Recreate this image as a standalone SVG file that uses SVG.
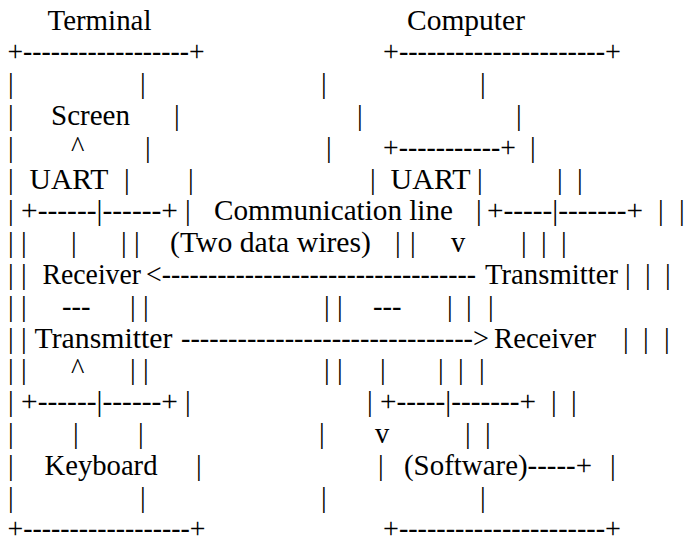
<svg xmlns="http://www.w3.org/2000/svg" width="685" height="546" viewBox="0 0 685 546">
<style>
text{font-family:'Liberation Serif','Times New Roman',serif;font-size:28.5px;fill:#000}
</style>
<rect width="685" height="546" fill="#fff"/>
<g opacity="0.999">
<g id="terminal">
<text x="47.5" y="29.5" textLength="104" lengthAdjust="spacingAndGlyphs">Terminal</text>
<text x="7.5" y="61.3" textLength="197" lengthAdjust="spacingAndGlyphs">+------------------+</text>
<text x="8" y="93.1">|</text><text x="140" y="93.1">|</text>
<text x="8" y="124.9">|</text><text x="51" y="124.9" textLength="79" lengthAdjust="spacingAndGlyphs">Screen</text><text x="174" y="124.9">|</text>
<text x="8" y="156.7">|</text><text x="71" y="156.7">^</text><text x="145" y="156.7">|</text>
<text x="8" y="188.5">|</text><text x="29.5" y="188.5" textLength="79" lengthAdjust="spacingAndGlyphs">UART</text><text x="124" y="188.5">|</text><text x="188" y="188.5">|</text>
<text x="8" y="220.3">|</text><text x="21" y="220.3" textLength="157" lengthAdjust="spacingAndGlyphs">+------|------+</text><text x="185" y="220.3">|</text>
<text x="8" y="252.1">|</text><text x="21" y="252.1">|</text><text x="71" y="252.1">|</text><text x="121" y="252.1">|</text><text x="134" y="252.1">|</text>
<text x="8" y="283.9">|</text><text x="21" y="283.9">|</text><text x="42.5" y="283.9" textLength="98.5" lengthAdjust="spacingAndGlyphs">Receiver</text>
<text x="8" y="315.7">|</text><text x="21" y="315.7">|</text><text x="62" y="315.7">---</text><text x="130" y="315.7">|</text><text x="143" y="315.7">|</text>
<text x="8" y="347.5">|</text><text x="21" y="347.5">|</text><text x="34.5" y="347.5" textLength="138" lengthAdjust="spacingAndGlyphs">Transmitter</text>
<text x="8" y="379.3">|</text><text x="21" y="379.3">|</text><text x="71" y="379.3">^</text><text x="130" y="379.3">|</text><text x="143" y="379.3">|</text>
<text x="8" y="411.1">|</text><text x="21" y="411.1" textLength="157" lengthAdjust="spacingAndGlyphs">+------|------+</text><text x="185" y="411.1">|</text>
<text x="8" y="442.9">|</text><text x="73" y="442.9">|</text><text x="138" y="442.9">|</text>
<text x="8" y="474.7">|</text><text x="44.5" y="474.7" textLength="113" lengthAdjust="spacingAndGlyphs">Keyboard</text><text x="196" y="474.7">|</text>
<text x="8" y="506.5">|</text><text x="140" y="506.5">|</text>
<text x="7.5" y="538.3" textLength="198" lengthAdjust="spacingAndGlyphs">+------------------+</text>
</g>
<g id="computer">
<text x="407" y="29.5" textLength="118" lengthAdjust="spacingAndGlyphs">Computer</text>
<text x="383" y="61.3" textLength="238" lengthAdjust="spacingAndGlyphs">+----------------------+</text>
<text x="321" y="93.1">|</text><text x="480" y="93.1">|</text>
<text x="357" y="124.9">|</text><text x="516" y="124.9">|</text>
<text x="326" y="156.7">|</text><text x="383" y="156.7" textLength="133" lengthAdjust="spacingAndGlyphs">+-----------+</text><text x="530" y="156.7">|</text>
<text x="370" y="188.5">|</text><text x="390.5" y="188.5" textLength="80" lengthAdjust="spacingAndGlyphs">UART</text><text x="477" y="188.5">|</text><text x="557" y="188.5">|</text><text x="577" y="188.5">|</text>
<text x="476" y="220.3">|</text><text x="487" y="220.3" textLength="156" lengthAdjust="spacingAndGlyphs">+-----|-------+</text><text x="658" y="220.3">|</text><text x="679" y="220.3">|</text>
<text x="395" y="252.1">|</text><text x="410" y="252.1">|</text><text x="451" y="252.1">v</text><text x="521" y="252.1">|</text><text x="541" y="252.1">|</text><text x="561" y="252.1">|</text>
<text x="485" y="283.9" textLength="133" lengthAdjust="spacingAndGlyphs">Transmitter</text><text x="625" y="283.9">|</text><text x="645" y="283.9">|</text><text x="665" y="283.9">|</text>
<text x="324" y="315.7">|</text><text x="337" y="315.7">|</text><text x="373" y="315.7">---</text><text x="447" y="315.7">|</text><text x="466" y="315.7">|</text><text x="488" y="315.7">|</text>
<text x="494" y="347.5" textLength="102" lengthAdjust="spacingAndGlyphs">Receiver</text><text x="623" y="347.5">|</text><text x="643" y="347.5">|</text><text x="664" y="347.5">|</text>
<text x="324" y="379.3">|</text><text x="337" y="379.3">|</text><text x="380" y="379.3">|</text><text x="438" y="379.3">|</text><text x="458" y="379.3">|</text><text x="479" y="379.3">|</text>
<text x="367" y="411.1">|</text><text x="380" y="411.1" textLength="156" lengthAdjust="spacingAndGlyphs">+-----|-------+</text><text x="551" y="411.1">|</text><text x="571" y="411.1">|</text>
<text x="319" y="442.9">|</text><text x="375" y="442.9">v</text><text x="465" y="442.9">|</text><text x="485" y="442.9">|</text>
<text x="378" y="474.7">|</text><text x="404" y="474.7" textLength="188" lengthAdjust="spacingAndGlyphs">(Software)-----+</text><text x="610" y="474.7">|</text>
<text x="321" y="506.5">|</text><text x="480" y="506.5">|</text>
<text x="383" y="538.3" textLength="238" lengthAdjust="spacingAndGlyphs">+----------------------+</text>
</g>
<g id="connectors">
<text x="214" y="220.3" textLength="239" lengthAdjust="spacingAndGlyphs">Communication line</text>
<text x="170" y="252.1" textLength="201" lengthAdjust="spacingAndGlyphs">(Two data wires)</text>
<text x="146" y="283.9" textLength="330" lengthAdjust="spacingAndGlyphs">&lt;----------------------------------</text>
<text x="181" y="347.5" textLength="308" lengthAdjust="spacingAndGlyphs">-------------------------------&gt;</text>
</g>
</g>
</svg>
